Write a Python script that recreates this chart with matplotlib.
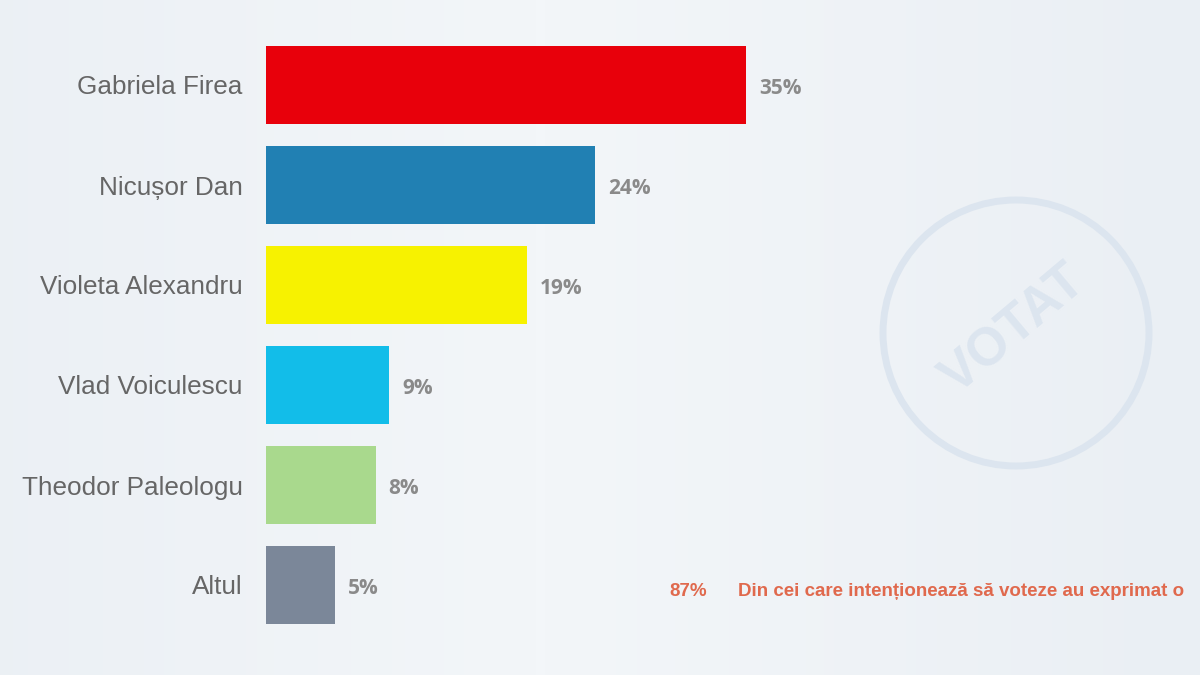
import numpy as np
import matplotlib.pyplot as plt
from matplotlib.patches import Circle
from matplotlib.colors import LinearSegmentedColormap

# data
candidates = ["Gabriela Firea", "Nicușor Dan", "Violeta Alexandru",
              "Vlad Voiculescu", "Theodor Paleologu", "Altul"]
percent = [35, 24, 19, 9, 8, 5]
bar_colors = ["#e8000b", "#2180b3", "#f7f200", "#12bde9", "#a9d98d", "#7b8799"]
note_value = "87%"
note_text = "Din cei care intenționează să voteze au exprimat o"

plt.rcParams['font.family'] = ['Liberation Sans', 'DejaVu Sans']

fig = plt.figure(figsize=(12, 6.75), dpi=100)
fig.patch.set_facecolor('#eff3f7')

# soft background gradient
bg = fig.add_axes([0, 0, 1, 1], zorder=-2)
gx = np.linspace(0, 1, 300)
grad = np.tile(1 - np.abs(gx - 0.45), (50, 1))
bg.imshow(grad, cmap=LinearSegmentedColormap.from_list('bg', ['#eaeff4', '#f3f6f9']),
          aspect='auto', extent=[0, 1, 0, 1], interpolation='bilinear')
bg.axis('off')

# watermark (in inches so it stays round)
circ = Circle((10.16, (675 - 333) / 100), 1.33, transform=fig.dpi_scale_trans,
              fill=False, edgecolor='#dce5ef', linewidth=5)
fig.patches.append(circ)
fig.text(1014 / 1200, 1 - 330 / 675, "VOTAT", rotation=40, ha='center', va='center',
         fontsize=38, fontweight='bold', color='#dce5ef')

# bars, pixel layout: x0 = 266px, 13.714 px per percent
left_px = 266
ax = fig.add_axes([left_px / 1200, 0, 1 - left_px / 1200, 1])
ax.patch.set_alpha(0)
pxw = 1200 - left_px
ax.set_xlim(0, pxw / 13.714)
ax.set_ylim(5.9, -0.85)

y = np.arange(len(candidates))
ax.barh(y, percent, height=0.78, color=bar_colors)
for yi, v in zip(y, percent):
    ax.text(v + 13 / 13.714, yi + 0.04, f"{v}%", va='center', ha='left', fontsize=15,
            fontweight='bold', color='#8a8a8a', family=['Open Sans', 'DejaVu Sans'])

ax.set_yticks(y)
ax.set_yticklabels(candidates, fontsize=18.8, color='#666666')
ax.tick_params(axis='y', length=0, pad=17)
ax.tick_params(axis='x', bottom=False, labelbottom=False)
for s in ax.spines.values():
    s.set_visible(False)

# footnote
fig.text(669 / 1200, 1 - 591 / 675, note_value, ha='left', va='center', fontsize=13.5,
         fontweight='bold', color='#e0694d')
fig.text(738 / 1200, 1 - 591 / 675, note_text, ha='left', va='center', fontsize=13.5,
         fontweight='bold', color='#e0694d')

fig.savefig('out.png', dpi=100, facecolor=fig.get_facecolor())
